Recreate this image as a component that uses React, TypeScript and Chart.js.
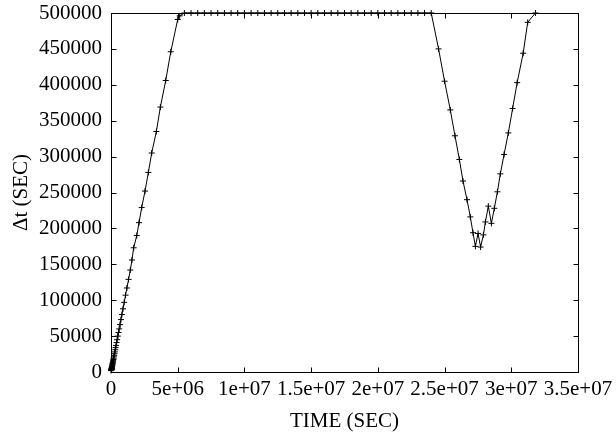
import React, { useEffect, useRef } from "react";
import { Chart, registerables } from "chart.js";

Chart.register(...registerables);

// TIME (SEC) of each step
const timeSec: number[] = [
  0, 29000, 32000, 35000, 39000, 43000, 47000, 51000, 56000, 62000, 68000,
  75000, 83000, 91000, 100000, 110000, 121000, 134000, 147000, 161000, 177000,
  196000, 215000, 237000, 260000, 286000, 316000, 347000, 377000, 418000,
  459000, 510000, 561000, 612000, 673000, 745000, 816000, 898000, 989000,
  1091000, 1193000, 1316000, 1448000, 1570000, 1700000, 1930000, 2100000,
  2300000, 2550000, 2800000, 3050000, 3400000, 3700000, 4100000, 4480000,
  5000000, 5150000,
  5500000, 6000000, 6500000, 7000000, 7500000, 8000000, 8500000, 9000000,
  9500000, 10000000, 10500000, 11000000, 11500000, 12000000, 12500000,
  13000000, 13500000, 14000000, 14500000, 15000000, 15500000, 16000000,
  16500000, 17000000, 17500000, 18000000, 18500000, 19000000, 19500000,
  20000000, 20500000, 21000000, 21500000, 22000000, 22500000, 23000000,
  23500000, 24000000,
  24550000, 25000000, 25430000, 25780000, 26110000, 26380000, 26680000,
  26930000, 27130000, 27310000, 27510000, 27700000, 27910000, 28060000,
  28280000, 28510000, 28730000, 28960000, 29180000, 29460000, 29780000,
  30100000, 30440000, 30890000, 31230000, 31810000,
];

// Δt (SEC) of each step
const deltaT: number[] = [
  2000, 2800, 3100, 3400, 3800, 4200, 4600, 5000, 5500, 6100, 6700,
  7400, 8100, 8900, 9800, 10800, 11900, 13100, 14400, 15800, 17400,
  19200, 21100, 23200, 25500, 28000, 31000, 34000, 37000, 41000,
  45000, 50000, 55000, 60000, 66000, 73000, 80000, 88000, 97000,
  107000, 117000, 129000, 142000, 156000, 173000, 190000, 208000,
  229000, 252000, 278000, 305000, 335000, 369000, 406000, 446000,
  491000, 496000,
  500000, 500000, 500000, 500000, 500000, 500000, 500000, 500000,
  500000, 500000, 500000, 500000, 500000, 500000, 500000,
  500000, 500000, 500000, 500000, 500000, 500000, 500000,
  500000, 500000, 500000, 500000, 500000, 500000, 500000,
  500000, 500000, 500000, 500000, 500000, 500000, 500000,
  500000, 500000,
  450000, 405000, 365000, 329000, 296000, 266000, 240000,
  216000, 194000, 175000, 193000, 174000, 191000, 209000,
  231000, 207000, 228000, 251000, 276000, 303000, 333000,
  367000, 403000, 444000, 487000, 500000,
];

const xMin = 0;
const xMax = 35000000;
const xStep = 5000000;
const yMin = 0;
const yMax = 500000;
const yStep = 50000;

const xTitle = "TIME (SEC)";
const yTitle = "\u0394t (SEC)";

const FONT = "'Liberation Serif', 'Times New Roman', serif";

function fmtSci(v: number): string {
  if (v === 0) return "0";
  const s = v.toExponential();
  const m = s.match(/^(.*)e([+-])(\d+)$/);
  if (!m) return s;
  return m[1] + "e" + m[2] + m[3].padStart(2, "0");
}

const frameTicks = {
  id: "frameTicks",
  afterDraw(chart: any) {
    const { ctx, chartArea } = chart;
    const xs = chart.scales.x;
    const ys = chart.scales.y;
    const L = Math.round(chartArea.left) + 0.5;
    const R = Math.round(chartArea.right) + 0.5;
    const T = Math.round(chartArea.top) + 0.5;
    const B = Math.round(chartArea.bottom) + 0.5;
    const len = 5;
    ctx.save();
    ctx.strokeStyle = "#000";
    ctx.lineWidth = 1;
    ctx.beginPath();
    xs.ticks.forEach((t: any) => {
      const px = Math.round(xs.getPixelForValue(t.value)) + 0.5;
      ctx.moveTo(px, B);
      ctx.lineTo(px, B - len);
      ctx.moveTo(px, T);
      ctx.lineTo(px, T + len);
    });
    ys.ticks.forEach((t: any) => {
      const py = Math.round(ys.getPixelForValue(t.value)) + 0.5;
      ctx.moveTo(L, py);
      ctx.lineTo(L + len, py);
      ctx.moveTo(R, py);
      ctx.lineTo(R - len, py);
    });
    ctx.stroke();
    ctx.strokeRect(L, T, R - L, B - T);
    ctx.restore();
  },
};

export default function App() {
  const ref = useRef<HTMLCanvasElement | null>(null);
  useEffect(() => {
    if (!ref.current) return;
    const points = timeSec.map((t, i) => ({ x: t, y: deltaT[i] }));
    const chart = new Chart(ref.current, {
      type: "scatter",
      data: {
        datasets: [
          {
            data: points,
            showLine: true,
            borderColor: "#000",
            backgroundColor: "#000",
            borderWidth: 1,
            pointStyle: "cross",
            pointRadius: 3,
            pointBorderWidth: 1,
            pointBorderColor: "#000",
            clip: false,
          } as any,
        ],
      },
      options: {
        animation: false,
        responsive: true,
        maintainAspectRatio: false,
        layout: { padding: { left: 0, right: 38, top: 13, bottom: 0 } },
        plugins: {
          legend: { display: false },
          tooltip: { enabled: false },
        },
        scales: {
          x: {
            type: "linear",
            min: xMin,
            max: xMax,
            afterFit: (s: any) => {
              s.height = 65;
              s.paddingLeft = 0;
              s.paddingRight = 0;
              s.paddingTop = 0;
              s.paddingBottom = 0;
            },
            grid: { display: false, drawTicks: false },
            border: { display: false },
            ticks: {
              stepSize: xStep,
              color: "#000",
              padding: 5,
              maxRotation: 0,
              autoSkip: false,
              font: { family: FONT, size: 21 },
              callback: (v: any) => fmtSci(Number(v)),
            },
            title: {
              display: true,
              text: xTitle,
              color: "#000",
              font: { family: FONT, size: 21, lineHeight: 1.2 },
              padding: { top: 0, bottom: 3 },
            },
          },
          y: {
            type: "linear",
            min: yMin,
            max: yMax,
            afterFit: (s: any) => {
              s.width = 111;
              s.paddingLeft = 0;
              s.paddingRight = 0;
              s.paddingTop = 0;
              s.paddingBottom = 0;
            },
            grid: { display: false, drawTicks: false },
            border: { display: false },
            ticks: {
              stepSize: yStep,
              color: "#000",
              padding: 9,
              autoSkip: false,
              font: { family: FONT, size: 21 },
              callback: (v: any) => String(v),
            },
            title: {
              display: true,
              text: yTitle,
              color: "#000",
              font: { family: FONT, size: 21, lineHeight: 1.2 },
              padding: { top: 9, bottom: 0 },
            },
          },
        },
      },
      plugins: [frameTicks],
    });
    return () => chart.destroy();
  }, []);
  return (
    <div
      style={{
        position: "absolute",
        left: 0,
        top: 0,
        width: 616,
        height: 437,
        background: "#fff",
      }}
    >
      <canvas ref={ref} />
    </div>
  );
}
